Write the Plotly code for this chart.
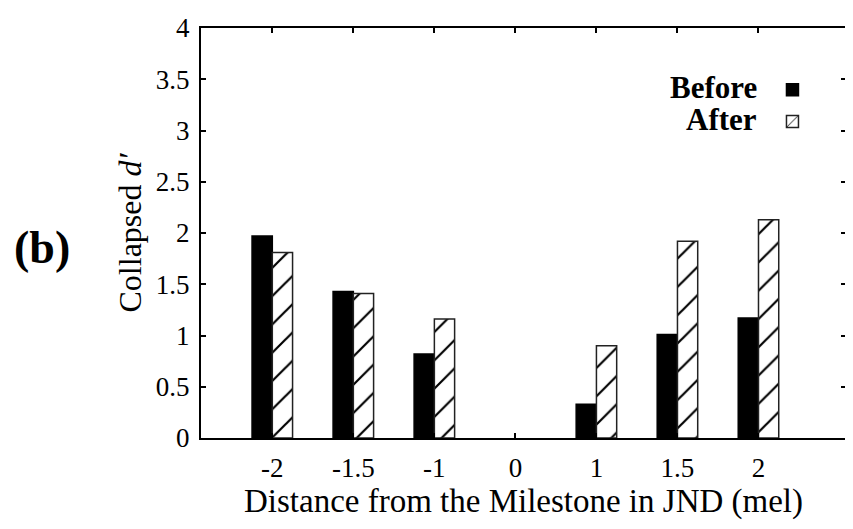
import plotly.graph_objects as go

categories = ["-2", "-1.5", "-1", "0", "1", "1.5", "2"]
before = [1.97, 1.43, 0.82, None, 0.33, 1.01, 1.17]
after = [1.81, 1.41, 1.16, None, 0.90, 1.92, 2.13]
y_ticks = [0, 0.5, 1, 1.5, 2, 2.5, 3, 3.5, 4]
y_tick_text = ["0", "0.5", "1", "1.5", "2", "2.5", "3", "3.5", "4"]

FONT = "Liberation Serif, Times New Roman, serif"

fig = go.Figure()
fig.add_trace(go.Bar(
    x=categories, y=before, name="",
    marker=dict(color="black", line=dict(color="black", width=1.5)),
))
fig.add_trace(go.Bar(
    x=categories, y=after, name="",
    marker=dict(color="white", line=dict(color="#222", width=1.5),
                pattern=dict(shape="/", size=20, solidity=0.11, fgcolor="black", bgcolor="white", fillmode="replace")),
))

# the page body adds an 8px offset, so the figure is drawn 8px smaller
fig.update_layout(
    width=845, height=521,
    margin=dict(l=193, r=5, t=17, b=91),
    paper_bgcolor="white", plot_bgcolor="white",
    barmode="group", bargap=0.5, bargroupgap=0,
    font=dict(family=FONT, color="black", size=27),
    showlegend=True,
    legend=dict(x=0.886, y=0.90, xanchor="left", yanchor="top",
                bgcolor="rgba(0,0,0,0)", font=dict(size=22, family=FONT),
                itemwidth=30, tracegroupgap=0),
    xaxis=dict(
        type="category", range=[-0.88, 7.08], automargin=True,
        showline=True, linecolor="black", linewidth=2, mirror="ticks",
        ticks="inside", ticklen=5, tickwidth=2, tickcolor="black",
        showgrid=False, zeroline=False,
        tickfont=dict(size=27, family=FONT), ticklabelstandoff=5,
        title=dict(text="Distance from the Milestone in JND (mel)", font=dict(size=33, family=FONT), standoff=2),
    ),
    yaxis=dict(
        range=[0, 4], tickvals=y_ticks, ticktext=y_tick_text, automargin=True,
        showline=True, linecolor="black", linewidth=2, mirror="ticks",
        ticks="inside", ticklen=5, tickwidth=2, tickcolor="black",
        showgrid=False, zeroline=False,
        tickfont=dict(size=27, family=FONT), ticklabelstandoff=4,
        title=dict(text="Collapsed <i>d′</i>", font=dict(size=32, family=FONT), standoff=5),
    ),
    annotations=[
        dict(text="<b>Before</b>", xref="paper", yref="paper", x=0.865, y=0.855,
             xanchor="right", yanchor="middle", showarrow=False, font=dict(size=31, family=FONT)),
        dict(text="<b>After</b>", xref="paper", yref="paper", x=0.865, y=0.777,
             xanchor="right", yanchor="middle", showarrow=False, font=dict(size=31, family=FONT)),
        dict(text="<b>(b)</b>", xref="paper", yref="paper", x=-0.246, y=0.465,
             xanchor="center", yanchor="middle", showarrow=False, font=dict(size=46, family=FONT)),
    ],
)

fig.write_html("out.html")
